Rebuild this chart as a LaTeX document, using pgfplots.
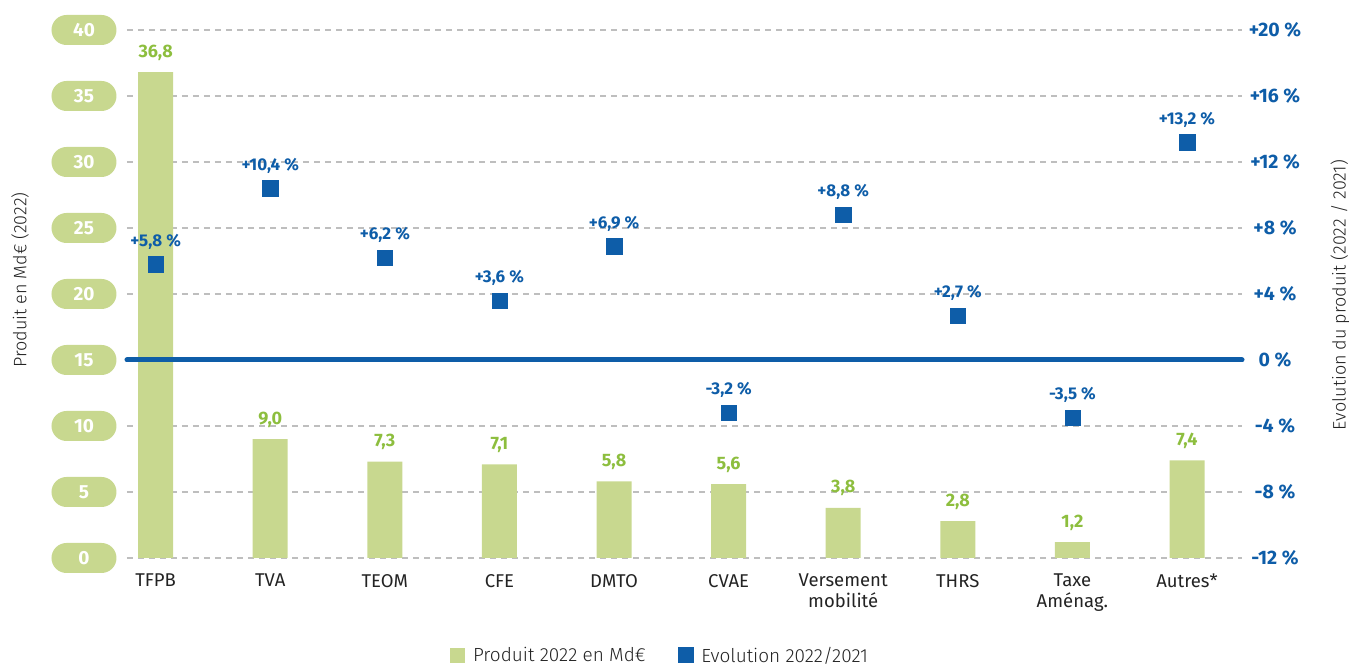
\documentclass[border=0pt]{standalone}
\usepackage{pgfplots}
\pgfplotsset{compat=1.18}
\usepackage{pgfplotstable}
\usepackage{fontspec}
\setmainfont{Fira Sans}
\newfontfamily\lightfont{Fira Sans Light}
\usetikzlibrary{shapes.misc}

\definecolor{barGreen}{RGB}{200,216,143}
\definecolor{valGreen}{RGB}{141,190,62}
\definecolor{evoBlue}{RGB}{14,93,168}
\definecolor{gridGray}{RGB}{190,190,190}
\definecolor{txtGray}{RGB}{35,35,35}

% x: category index, prod: produit 2022 (Md€), evo: evolution 2022/2021 (%)
\pgfplotstableread{
x prod evo
0 36.8 5.8
1 9.0 10.4
2 7.3 6.2
3 7.1 3.6
4 5.8 6.9
5 5.6 -3.2
6 3.8 8.8
7 2.8 2.7
8 1.2 -3.5
9 7.4 13.2
}\fiscal

\pgfplotsset{
  twin/.style={
    at={(0,0)}, anchor=south west,
    scale only axis, width=1115pt, height=528pt,
    xmin=-0.25, xmax=9.48,
    axis line style={draw=none},
    major tick style={draw=none}, minor tick style={draw=none},
  }
}

\begin{document}
\begin{tikzpicture}
\useasboundingbox (-127pt,-110pt) rectangle (1222pt,558pt);

% bars: produit 2022, left scale
\begin{axis}[twin,
  ymin=0, ymax=40, ytick={0,5,...,40},
  ymajorgrids,
  grid style={gridGray, line width=1.3pt, dash pattern=on 6pt off 5pt},
  xtick={0,...,9},
  xticklabels={TFPB, TVA, TEOM, CFE, DMTO, CVAE, {Versement\\mobilité}, THRS, {Taxe\\Aménag.}, Autres*},
  xticklabel style={align=center, text=txtGray, anchor=north, inner sep=0pt, yshift=-16pt,
    font=\fontsize{18.5}{21}\selectfont},
  yticklabel style={rounded rectangle, fill=barGreen, text=white, inner sep=0pt,
    minimum width=65pt, minimum height=30pt, anchor=center, xshift=-43pt,
    font=\bfseries\fontsize{19}{19}\selectfont},
  /pgf/number format/assume math mode=true,
  legend style={at={(axis description cs:0.478,-0.184)}, anchor=center,
    draw=none, fill=none, legend columns=2,
    font=\lightfont\fontsize{19}{20}\selectfont, text=txtGray,
    /tikz/every even column/.append style={column sep=30pt},
    /tikz/every odd column/.append style={column sep=6pt}},
]
\addplot[ybar, bar width=35pt, fill=barGreen, draw=none,
  nodes near coords={\pgfmathprintnumber[fixed, fixed zerofill, precision=1, use comma, assume math mode=true]{\pgfplotspointmeta}},
  every node near coord/.append style={text=valGreen, anchor=base, yshift=15pt,
    font=\bfseries\fontsize{18}{18}\selectfont},
  legend image code/.code={\fill[barGreen] (0pt,-7.5pt) rectangle (15pt,7.5pt);}]
  table[x=x, y=prod]{\fiscal};
\addlegendentry{Produit 2022 en Md€}
\addlegendimage{legend image code/.code={\fill[evoBlue] (0pt,-7.5pt) rectangle (15pt,7.5pt);}}
\addlegendentry{Evolution 2022/2021}
\end{axis}

% squares: evolution, right scale
\begin{axis}[twin,
  ymin=-12, ymax=20, ytick={-12,-8,...,20},
  yticklabels={-12 \%, -8 \%, -4 \%, 0 \%, +4 \%, +8 \%, +12 \%, +16 \%, +20 \%},
  yticklabel pos=right,
  yticklabel style={text=evoBlue, anchor=center, xshift=33pt,
    font=\bfseries\fontsize{19.5}{19.5}\selectfont},
  xtick=\empty,
  clip=false,
]
\addplot[evoBlue, line width=5pt, line cap=round] coordinates {(-0.25,0) (9.48,0)};
\addplot[only marks, mark=square*, mark size=7.7pt,
  mark options={fill=evoBlue, draw=evoBlue, line width=0.4pt},
  nodes near coords={\pgfmathprintnumber[fixed, fixed zerofill, precision=1, use comma, print sign, assume math mode=true]{\pgfplotspointmeta}~\%},
  every node near coord/.append style={text=evoBlue, anchor=base, yshift=18pt,
    font=\bfseries\fontsize{17}{17}\selectfont}]
  table[x=x, y=evo]{\fiscal};
\end{axis}

\node[rotate=90, text=txtGray, font=\lightfont\fontsize{18}{20}\selectfont] at (-107pt,278pt) {Produit en Md€ (2022)};
\node[rotate=90, text=txtGray, font=\lightfont\fontsize{18}{20}\selectfont] at (1213pt,263pt) {Evolution du produit (2022 / 2021)};
\end{tikzpicture}
\end{document}
